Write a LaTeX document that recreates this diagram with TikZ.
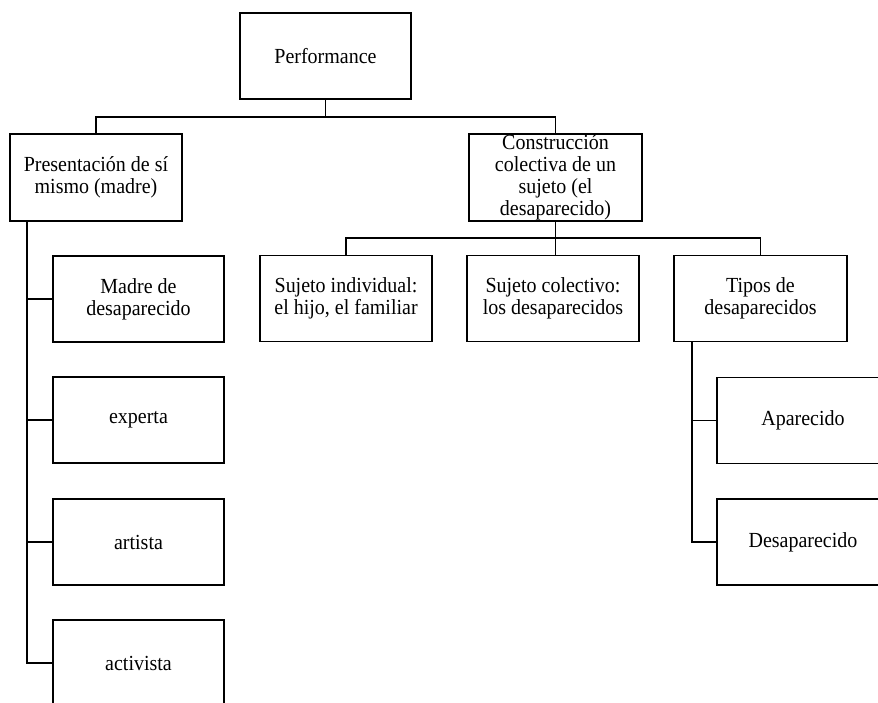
\documentclass[tikz,border=0pt]{standalone}
\usepackage{fontspec}
\setmainfont[FakeStretch=0.93]{Liberation Serif}
\begin{document}
\begin{tikzpicture}[x=1pt,y=-1pt,
  box/.style={draw,line width=1.6pt,minimum width=172pt,minimum height=86pt,inner sep=0pt,align=center,font=\fontsize{21.5}{22}\selectfont},
  link/.style={line width=1.6pt}]
\useasboundingbox (0,0) rectangle (878,702);
\clip (0,0) rectangle (878,702);
\node[box,minimum width=171pt] (perf) at (325.5,56) {Performance};
\node[box,minimum height=87pt] (pres) at (96,177.5) {Presentación de sí\\mismo (madre)};
\node[box,minimum width=173pt,minimum height=87pt] (cons) at (555.5,177.5) {Construcción\\colectiva de un\\sujeto (el\\desaparecido)};
\node[box,minimum width=171pt] (madre) at (138.5,299) {Madre de\\desaparecido};
\node[box,minimum width=171pt] (experta) at (138.5,420) {experta};
\node[box,minimum width=171pt] (artista) at (138.5,542) {artista};
\node[box,minimum width=171pt] (activista) at (138.5,663) {activista};
\node[box] (indiv) at (346,298.5) {Sujeto individual:\\el hijo, el familiar};
\node[box] (colec) at (553,298.5) {Sujeto colectivo:\\los desaparecidos};
\node[box,minimum width=173pt] (tipos) at (760.5,298.5) {Tipos de\\desaparecidos};
\node[box] (apar) at (803,420.5) {Aparecido};
\node[box] (desap) at (803,542) {Desaparecido};
% top level
\coordinate (bar1) at (0,117);
\draw[link] (perf.south) -- (perf.south |- bar1);
\draw[link] (pres.north) |- (perf.south |- bar1) -| (cons.north);
% left column
\coordinate (lv) at (27,0);
\draw[link] (lv |- pres.south) -- (lv |- activista.west) -- (activista.west);
\draw[link] (lv |- madre.west) -- (madre.west);
\draw[link] (lv |- experta.west) -- (experta.west);
\draw[link] (lv |- artista.west) -- (artista.west);
% middle level
\coordinate (bar2) at (0,238);
\draw[link] (cons.south) -- (cons.south |- colec.north);
\draw[link] (indiv.north) |- (cons.south |- bar2) -| (tipos.north);
% right column
\coordinate (rv) at (692,0);
\draw[link] (rv |- tipos.south) -- (rv |- desap.west) -- (desap.west);
\draw[link] (rv |- apar.west) -- (apar.west);
\end{tikzpicture}
\end{document}
